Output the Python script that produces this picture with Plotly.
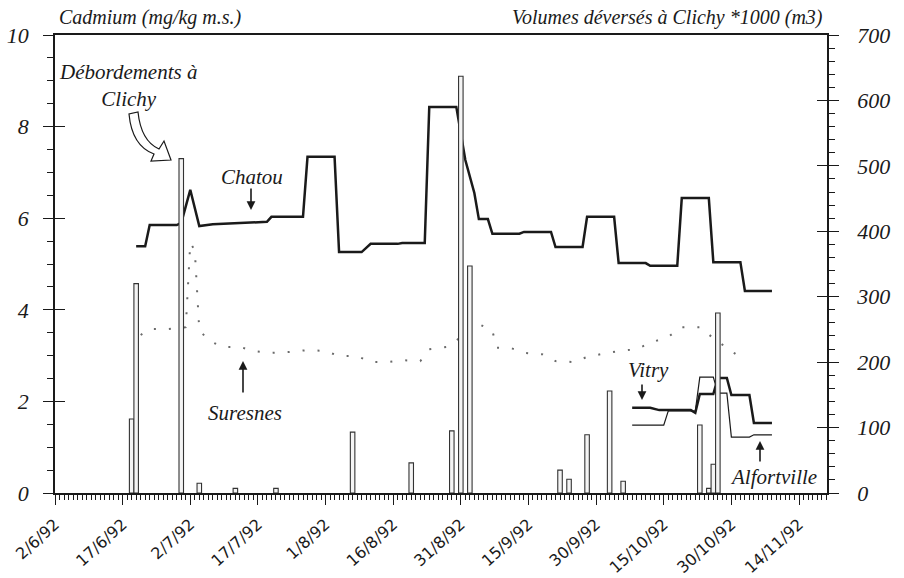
import plotly.graph_objects as go

# ---------------- data ----------------
chatou_dates = ["1992-06-20", "1992-06-22", "1992-06-23", "1992-06-29", "1992-06-30", "1992-07-02",
                "1992-07-04", "1992-07-07", "1992-07-19", "1992-07-20", "1992-07-27", "1992-07-28",
                "1992-08-03", "1992-08-04", "1992-08-09", "1992-08-11", "1992-08-17", "1992-08-18",
                "1992-08-23", "1992-08-24", "1992-08-30", "1992-09-01", "1992-09-03", "1992-09-04",
                "1992-09-06", "1992-09-07", "1992-09-13", "1992-09-14", "1992-09-20", "1992-09-21",
                "1992-09-27", "1992-09-28", "1992-10-04", "1992-10-05", "1992-10-11", "1992-10-12",
                "1992-10-18", "1992-10-19", "1992-10-25", "1992-10-26", "1992-11-01", "1992-11-02",
                "1992-11-08"]
chatou_vals = [5.39, 5.39, 5.85, 5.85, 5.90, 6.62,
               5.83, 5.87, 5.92, 6.03, 6.03, 7.34,
               7.34, 5.26, 5.26, 5.44, 5.44, 5.46,
               5.46, 8.43, 8.43, 7.27, 6.55, 5.98,
               5.98, 5.66, 5.66, 5.70, 5.70, 5.37,
               5.37, 6.03, 6.03, 5.02, 5.02, 4.96,
               4.96, 6.44, 6.44, 5.04, 5.04, 4.41,
               4.41]

suresnes_dates = ["1992-06-21", "1992-06-23", "1992-06-27", "1992-07-01", "1992-07-02", "1992-07-03",
                  "1992-07-04", "1992-07-06", "1992-07-09", "1992-07-13", "1992-07-16", "1992-07-20",
                  "1992-07-24", "1992-07-28", "1992-08-01", "1992-08-04", "1992-08-08", "1992-08-11",
                  "1992-08-15", "1992-08-18", "1992-08-22", "1992-08-24", "1992-08-28", "1992-09-04",
                  "1992-09-07", "1992-09-08", "1992-09-11", "1992-09-14", "1992-09-18", "1992-09-21",
                  "1992-09-25", "1992-09-28", "1992-10-01", "1992-10-05", "1992-10-09", "1992-10-12",
                  "1992-10-16", "1992-10-19", "1992-10-23", "1992-10-26", "1992-10-31"]
suresnes_vals = [3.45, 3.58, 3.58, 3.62, 5.46, 5.30,
                 3.56, 3.34, 3.19, 3.19, 3.10, 3.06,
                 3.08, 3.12, 3.10, 2.99, 2.99, 2.86,
                 2.86, 2.90, 2.88, 3.14, 3.19, 3.69,
                 3.54, 3.17, 3.17, 3.06, 3.03, 2.88,
                 2.86, 2.97, 3.03, 3.10, 3.14, 3.28,
                 3.41, 3.62, 3.62, 3.38, 3.03]

vitry_dates = ["1992-10-08", "1992-10-12", "1992-10-14", "1992-10-21", "1992-10-22", "1992-10-23",
               "1992-10-26", "1992-10-27", "1992-10-29", "1992-10-30", "1992-11-03", "1992-11-04",
               "1992-11-08"]
vitry_vals = [1.86, 1.86, 1.81, 1.81, 1.75, 2.16,
              2.16, 2.51, 2.51, 2.14, 2.14, 1.53,
              1.53]

alfort_dates = ["1992-10-08", "1992-10-15", "1992-10-16", "1992-10-22", "1992-10-23", "1992-10-26",
                "1992-10-27", "1992-10-29", "1992-10-30", "1992-11-03", "1992-11-04", "1992-11-08"]
alfort_vals = [1.48, 1.48, 1.79, 1.79, 2.53, 2.53,
               2.18, 2.18, 1.22, 1.22, 1.27, 1.27]

volume_dates = ["1992-06-19", "1992-06-20", "1992-06-30", "1992-07-04", "1992-07-12", "1992-07-21",
                "1992-08-07", "1992-08-20", "1992-08-29", "1992-08-31", "1992-09-02", "1992-09-22",
                "1992-09-24", "1992-09-28", "1992-10-03", "1992-10-06", "1992-10-23", "1992-10-25",
                "1992-10-26", "1992-10-27"]
volume_vals = [113, 320, 511, 15, 7, 7,
               93, 46, 95, 637, 347, 35,
               21, 89, 156, 18, 104, 7,
               44, 275]

x_tick_dates = ["1992-06-02", "1992-06-17", "1992-07-02", "1992-07-17", "1992-08-01", "1992-08-16",
                "1992-08-31", "1992-09-15", "1992-09-30", "1992-10-15", "1992-10-30", "1992-11-14"]
x_tick_labels = ["2/6/92", "17/6/92", "2/7/92", "17/7/92", "1/8/92", "16/8/92",
                 "31/8/92", "15/9/92", "30/9/92", "15/10/92", "30/10/92", "14/11/92"]

cd_ticks = [0, 2, 4, 6, 8, 10]
cd_tick_labels = ["0", "2", "4", "6", "8", "10"]
vol_ticks = [0, 100, 200, 300, 400, 500, 600, 700]
vol_tick_labels = ["0", "100", "200", "300", "400", "500", "600", "700"]

# ---------------- layout helpers ----------------
L, R, T, B = 55, 827, 35, 493
W, H = 904, 578


def P(px, py):
    return (px - L) / (R - L), (B - py) / (B - T)


SERIF = "Liberation Serif"
INK = "#1a1a1a"

fig = go.Figure()

fig.add_trace(go.Bar(
    x=volume_dates, y=volume_vals, yaxis="y2", width=86400000 * 1.0,
    marker=dict(color="#f4f4f4", line=dict(color="#333333", width=1.1)),
    showlegend=False))

fig.add_trace(go.Scatter(
    x=suresnes_dates, y=suresnes_vals, mode="lines",
    line=dict(color="#6a6a6a", width=2, dash="2px,13px"), showlegend=False))

fig.add_trace(go.Scatter(
    x=chatou_dates, y=chatou_vals, mode="lines",
    line=dict(color=INK, width=2.5), showlegend=False))

fig.add_trace(go.Scatter(
    x=alfort_dates, y=alfort_vals, mode="lines",
    line=dict(color=INK, width=1.2), showlegend=False))

fig.add_trace(go.Scatter(
    x=vitry_dates, y=vitry_vals, mode="lines",
    line=dict(color=INK, width=2.5), showlegend=False))

tickfont_y = dict(family=SERIF, size=22, color=INK, style="italic")

fig.update_layout(
    width=W, height=H,
    margin=dict(l=L, r=W - R, t=T, b=H - B, autoexpand=False),
    paper_bgcolor="white", plot_bgcolor="white",
    barmode="overlay",
    xaxis=dict(
        type="date", range=["1992-06-02", "1992-11-20 05:00"], automargin=False,
        tickmode="array", tickvals=x_tick_dates, ticktext=x_tick_labels,
        tickangle=-42, tickfont=dict(family="DejaVu Sans", size=16, color=INK),
        ticks="outside", ticklen=10, tickwidth=1.3, tickcolor=INK,
        ticklabelstandoff=4,
        minor=dict(ticks="outside", ticklen=5, tickwidth=1, tickcolor=INK,
                   tickmode="linear", tick0="1992-06-02", dtick=86400000),
        showline=True, linecolor=INK, linewidth=1.5, mirror=True,
        showgrid=False, zeroline=False),
    yaxis=dict(
        range=[0, 10], tickmode="array", tickvals=cd_ticks,
        ticktext=[f"<i>{t}</i>" for t in cd_tick_labels], automargin=False,
        tickfont=tickfont_y, ticks="outside", ticklen=10, tickwidth=1.3, tickcolor=INK,
        ticklabelstandoff=10,
        minor=dict(ticks="outside", ticklen=6, tickwidth=1, tickcolor=INK, dtick=0.5),
        showline=True, linecolor=INK, linewidth=1.5,
        showgrid=False, zeroline=False),
    yaxis2=dict(
        range=[0, 700], tickmode="array", tickvals=vol_ticks,
        ticktext=[f"<i>{t}</i>" for t in vol_tick_labels], automargin=False,
        overlaying="y", side="right",
        tickfont=tickfont_y, ticks="outside", ticklen=10, tickwidth=1.3, tickcolor=INK,
        ticklabelstandoff=14,
        minor=dict(ticks="outside", ticklen=6, tickwidth=1, tickcolor=INK, dtick=20),
        showline=True, linecolor=INK, linewidth=1.5,
        showgrid=False, zeroline=False),
    yaxis3=dict(
        range=[0, 10], tickvals=cd_ticks[:-1], overlaying="y", side="left", automargin=False,
        ticks="inside", ticklen=10, tickwidth=1.3, tickcolor=INK,
        showticklabels=False, showgrid=False, zeroline=False, showline=False),
    yaxis4=dict(
        range=[0, 700], tickvals=vol_ticks[:-1], automargin=False,
        overlaying="y", side="right",
        ticks="inside", ticklen=10, tickwidth=1.3, tickcolor=INK,
        showticklabels=False, showgrid=False, zeroline=False, showline=False),
)

# invisible traces to activate the extra tick axes
fig.add_trace(go.Scatter(x=[], y=[], yaxis="y3", showlegend=False))
fig.add_trace(go.Scatter(x=[], y=[], yaxis="y4", showlegend=False))

ann_font = dict(family=SERIF, size=21, color=INK, style="italic")


def text(px, py, s, anchor="center", size=21):
    x, y = P(px, py)
    f = dict(ann_font)
    f["size"] = size
    fig.add_annotation(x=x, y=y, xref="paper", yref="paper", text=f"<i>{s}</i>", showarrow=False,
                       xanchor=anchor, yanchor="middle", font=f)


def arrow(px_tip, py_tip, px_tail, py_tail):
    x, y = P(px_tip, py_tip)
    fig.add_annotation(x=x, y=y, xref="paper", yref="paper", text="", showarrow=True,
                       ax=px_tail - px_tip, ay=py_tail - py_tip,
                       arrowhead=2, arrowsize=1.1, arrowwidth=1.6, arrowcolor=INK)


text(57, 18, "Cadmium (mg/kg m.s.)", anchor="left", size=20)
text(825, 18, "Volumes déversés à Clichy *1000 (m3)", anchor="right", size=20)
text(128, 85, "Débordements à<br>Clichy")
text(252, 177, "Chatou")
arrow(251, 210, 251, 187)
text(245, 413, "Suresnes")
arrow(243, 361, 243, 394)
text(648, 370, "Vitry")
arrow(642, 400, 642, 383)
text(773, 477, "Alfortville")
arrow(760, 441, 760, 463)

# hollow curved arrow (decoration)
pts = [P(129, 114), P(132, 146), P(154, 154), P(151, 161), P(171, 160), P(164, 141),
       P(159, 149), P(141, 141), P(138, 112)]
path = (f"M {pts[0][0]},{pts[0][1]} Q {pts[1][0]},{pts[1][1]} {pts[2][0]},{pts[2][1]} "
        f"L {pts[3][0]},{pts[3][1]} L {pts[4][0]},{pts[4][1]} L {pts[5][0]},{pts[5][1]} "
        f"L {pts[6][0]},{pts[6][1]} Q {pts[7][0]},{pts[7][1]} {pts[8][0]},{pts[8][1]} Z")
fig.add_shape(type="path", path=path, xref="paper", yref="paper",
              line=dict(color=INK, width=1.2), fillcolor="white")

fig.write_html("out.html", config={"displayModeBar": False},
               post_script="document.body.style.margin='0';document.body.style.overflow='hidden';")
